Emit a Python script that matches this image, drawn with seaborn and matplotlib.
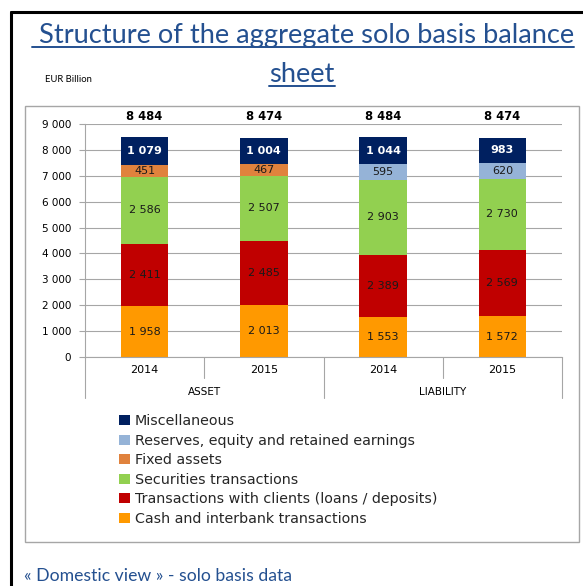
import matplotlib
matplotlib.use("Agg")
import matplotlib.pyplot as plt
import matplotlib.transforms as mtransforms
from matplotlib.patches import Rectangle
from matplotlib.lines import Line2D
import numpy as np
import pandas as pd
import seaborn as sns

# ---- data (EUR billion) ----
bar_keys = ["ASSET 2014", "ASSET 2015", "LIABILITY 2014", "LIABILITY 2015"]
years = ["2014", "2015", "2014", "2015"]
sides = ["ASSET", "LIABILITY"]

cash_interbank = [1958, 2013, 1553, 1572]
clients = [2411, 2485, 2389, 2569]
securities = [2586, 2507, 2903, 2730]
fixed_assets = [451, 467, 0, 0]
reserves = [0, 0, 595, 620]
miscellaneous = [1079, 1004, 1044, 983]
totals = [8484, 8474, 8484, 8474]

series_names = [
    "Cash and interbank transactions",
    "Transactions with clients (loans / deposits)",
    "Securities transactions",
    "Fixed assets",
    "Reserves, equity and retained earnings",
    "Miscellaneous",
]
series_values = [cash_interbank, clients, securities, fixed_assets, reserves, miscellaneous]
series_colors = ["#FF9900", "#C00000", "#92D050", "#E0823D", "#95B3D7", "#002060"]
label_colors = ["#1a1a1a", "#1a1a1a", "#1a1a1a", "#1a1a1a", "#1a1a1a", "white"]
label_weights = ["normal"] * 5 + ["bold"]

sns.set_theme(style="white")
plt.rcParams["font.family"] = ["DejaVu Sans"]

W, H = 583, 586
fig = plt.figure(figsize=(W / 100, H / 100), dpi=100)


def fx(px):
    return px / W


def fy(py):
    return 1 - py / H


TITLE_BLUE = "#245090"
GRID = "#A6A6A6"

# outer black frame (left and top edges) and grey chart box
fig.add_artist(Line2D([fx(10.5), fx(10.5)], [fy(12), 0], color="black", lw=2.2))
fig.add_artist(Line2D([fx(10.5), 1], [fy(12), fy(12)], color="black", lw=2.2))
fig.add_artist(Rectangle((fx(25), fy(542)), fx(579) - fx(25), fy(106) - fy(542),
                         fill=False, edgecolor=GRID, lw=1.0))

# ---- stacked bars ----
ax = fig.add_axes([fx(85), fy(357), fx(562) - fx(85), fy(124) - fy(357)])
ax.set_axisbelow(True)

df = pd.DataFrame({"bar": bar_keys})
cum = np.zeros(len(bar_keys))
bottoms, tops = [], []
for vals in series_values:
    bottoms.append(cum.copy())
    cum = cum + np.array(vals, dtype=float)
    tops.append(cum.copy())

# draw cumulative heights from the top layer down so each layer shows its own segment
for i in reversed(range(len(series_values))):
    df["top"] = tops[i]
    sns.barplot(data=df, x="bar", y="top", order=bar_keys, color=series_colors[i],
                saturation=1, width=0.4, linewidth=0, ax=ax, errorbar=None)

for i, vals in enumerate(series_values):
    for j, v in enumerate(vals):
        if v <= 0:
            continue
        ax.text(j, bottoms[i][j] + v / 2, f"{v:,}".replace(",", " "),
                ha="center", va="center", fontsize=8, color=label_colors[i],
                fontweight=label_weights[i])

ax.set_xlim(-0.5, 3.5)
ax.set_ylim(0, 9000)
ax.set_yticks(range(0, 9001, 1000))
ax.set_yticklabels([f"{v:,}".replace(",", " ") for v in range(0, 9001, 1000)])
ax.set_xticks([])
ax.set_xlabel("")
ax.set_ylabel("")
ax.yaxis.grid(True, color=GRID, lw=0.8)
ax.xaxis.grid(False)
for s in ["top", "right"]:
    ax.spines[s].set_visible(False)
for s in ["left", "bottom"]:
    ax.spines[s].set_color(GRID)
    ax.spines[s].set_linewidth(0.8)
ax.tick_params(axis="y", left=True, length=4, width=0.8, color=GRID,
               labelsize=7.5, pad=6, labelcolor="black")

# totals above each bar
blend_fig = mtransforms.blended_transform_factory(ax.transData, fig.transFigure)
for j, t in enumerate(totals):
    ax.text(j, fy(117), f"{t:,}".replace(",", " "), transform=blend_fig,
            ha="center", va="center", fontsize=8.3, fontweight="bold", color="black")

# two-level category axis
for xb in [0.5, 2.5]:
    ax.add_artist(Line2D([xb, xb], [fy(357), fy(378)], transform=blend_fig,
                         color=GRID, lw=0.8, clip_on=False))
for xb in [-0.5, 1.5, 3.5]:
    ax.add_artist(Line2D([xb, xb], [fy(357), fy(398)], transform=blend_fig,
                         color=GRID, lw=0.8, clip_on=False))
for j, yr in enumerate(years):
    ax.text(j, fy(370), yr, transform=blend_fig, ha="center", va="center",
            fontsize=8, color="black")
for k, side in enumerate(sides):
    ax.text(2 * k + 0.5, fy(392), side, transform=blend_fig, ha="center",
            va="center", fontsize=7.5, color="black")

# legend, top layer first
handles = [Rectangle((0, 0), 1, 1, facecolor=series_colors[i], edgecolor="none")
           for i in reversed(range(len(series_names)))]
labels = [series_names[i] for i in reversed(range(len(series_names)))]
fig.legend(handles, labels, loc="upper left", bbox_to_anchor=(fx(119), fy(414)),
           frameon=False, fontsize=10.3, handlelength=0.75, handleheight=0.7,
           handletextpad=0.35, labelspacing=0.39, borderpad=0, borderaxespad=0)

# titles and captions
fig.text(fx(303), fy(43.5), " Structure of the aggregate solo basis balance",
         ha="center", va="baseline", fontsize=19.6, color=TITLE_BLUE, family="Lato")
fig.text(fx(302), fy(82), "sheet", ha="center", va="baseline", fontsize=19.6,
         color=TITLE_BLUE, family="Lato")
fig.text(fx(45), fy(79), "EUR Billion", ha="left", va="center", fontsize=6.8,
         color="black", family="Lato")
fig.text(fx(24), fy(576), "« Domestic view » - solo basis data", ha="left",
         va="center", fontsize=12.7, color=TITLE_BLUE, family="Lato")

# underline the title lines
fig.canvas.draw()
renderer = fig.canvas.get_renderer()
for txt, ybase in [(fig.texts[0], 47), (fig.texts[1], 86)]:
    bb = txt.get_window_extent(renderer).transformed(fig.transFigure.inverted())
    fig.add_artist(Line2D([bb.x0, bb.x1], [fy(ybase), fy(ybase)],
                          color=TITLE_BLUE, lw=1.4))

fig.savefig("out.png", dpi=100)
